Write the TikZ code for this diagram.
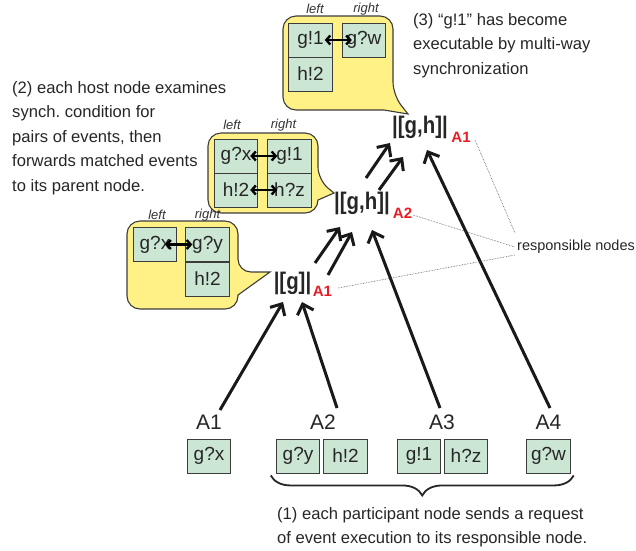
\documentclass[tikz,border=0pt]{standalone}
\usepackage{fontspec}
\setmainfont{Liberation Sans}
\newfontfamily\stretchfont[FakeStretch=0.85]{Liberation Sans}
\usetikzlibrary{arrows.meta,decorations.pathreplacing}
\definecolor{balloonyellow}{RGB}{255,241,134}
\definecolor{cellgreen}{RGB}{204,230,212}
\definecolor{edgegray}{RGB}{60,60,60}
\definecolor{hostred}{RGB}{232,28,36}
\frenchspacing
\begin{document}
\begin{tikzpicture}[x=1pt,y=-1pt]
\tikzset{balloon/.style={draw=edgegray,fill=balloonyellow,line width=1.1pt,rounded corners=13pt},
  cell/.style={draw=edgegray,fill=cellgreen,line width=0.9pt,minimum width=43.5pt,minimum height=34pt,inner sep=0pt,font=\fontsize{19}{19}\selectfont,text=black!85},
  side/.style={font=\fontsize{13}{13}\selectfont\itshape,text=black!80,inner sep=0pt},
  host/.style={font=\stretchfont\bfseries\fontsize{24}{24}\selectfont,inner sep=0pt,text=black!85},
  hostsub/.style={font=\bfseries\fontsize{15}{15}\selectfont,inner sep=0pt,text=hostred},
  part/.style={font=\fontsize{21}{21}\selectfont,inner sep=0pt,text=black!85},
  note/.style={font=\fontsize{16.6}{24.5}\selectfont,align=left,inner sep=0pt,anchor=north west,text=black!85},
  req/.style={line width=3pt,draw=black!90,-{Straight Barb[length=9pt,width=17pt]}},
  pair/.style={line width=2.4pt,{Straight Barb[length=4pt,width=9pt]}-{Straight Barb[length=4pt,width=9pt]}},
  resp/.style={densely dotted,line width=0.6pt,draw=black!70}}
\useasboundingbox (0,0) rectangle (636,550);
\draw[balloon] (283,16) -- (393,16) -- (393,95) [sharp corners] -- (408,114) -- (384,110) [rounded corners=13pt] -- (283,110) -- cycle;
\draw[balloon] (208,133) -- (318,133) -- (318,180) [sharp corners] -- (334,193) -- (318,200) [rounded corners=13pt] -- (318,213) -- (208,213) -- cycle;
\draw[balloon] (127,221) -- (238,221) -- (238,272) [sharp corners] -- (270,272) -- (238,295) [rounded corners=13pt] -- (238,309) -- (127,309) -- cycle;
\node[cell] (tg1) at (310.5,40) {g!1};
\node[cell] (th2) at (310.5,74) {h!2};
\node[cell] (tgw) at (364,40) {g?w};
\node[side] at (315,9) {left};
\node[side] at (366,9) {right};
\node[cell] (mgx) at (236,156) {g?x};
\node[cell] (mh2) at (236,190) {h!2};
\node[cell] (mg1) at (289.5,156) {g!1};
\node[cell] (mhz) at (289.5,190) {h?z};
\node[side] at (232,125) {left};
\node[side] at (283.5,125) {right};
\node[cell] (bgx) at (155,244.5) {g?x};
\node[cell] (bgy) at (207.5,244.5) {g?y};
\node[cell] (bh2) at (207.5,279) {h!2};
\node[side] at (157,215) {left};
\node[side] at (207.5,215) {right};
\draw[pair] ([xshift=-8pt]tg1.east) -- ([xshift=10pt]tgw.west);
\draw[pair] ([xshift=-8pt]mgx.east) -- ([xshift=10pt]mg1.west);
\draw[pair] ([xshift=-8pt]mh2.east) -- ([xshift=10pt]mhz.west);
\draw[pair] ([xshift=-12pt]bgx.east) -- ([xshift=7pt]bgy.west);
\node[host] (g1) at (292.5,283.5) {|[g]|};
\node[hostsub] (g1sub) at (322.5,291.5) {A1};
\node[host] (gh2) at (362,203) {|[g,h]|};
\node[hostsub] (gh2sub) at (402.5,213) {A2};
\node[host] (gh1) at (420,127) {|[g,h]|};
\node[hostsub] (gh1sub) at (461,137.5) {A1};
\node[part] (A1) at (209,422) {A1};
\node[part] (A2) at (323,422) {A2};
\node[part] (A3) at (442,422) {A3};
\node[part] (A4) at (548.5,422) {A4};
\node[cell] (gx) at (209,456) {g?x};
\node[cell] (gy) at (298,456) {g?y};
\node[cell] (h2) at (345.5,456) {h!2};
\node[cell] (g1c) at (419,456) {g!1};
\node[cell] (hz) at (466,456) {h?z};
\node[cell] (gw) at (548.5,456) {g?w};
\draw[req] ([shift={(11,-12)}]A1.center) -- ([shift={(-9.5,18.5)}]g1.center);
\draw[req] ([shift={(14,-14)}]A2.center) -- ([shift={(9.5,18.5)}]g1.center);
\draw[req] ([shift={(-2,-14)}]A3.center) -- ([shift={(10,27)}]gh2.center);
\draw[req] ([shift={(1.5,-14)}]A4.center) -- ([shift={(7,23)}]gh1.center);
\draw[req] ([shift={(22.5,-20.5)}]g1.center) -- ([shift={(-22,24)}]gh2.center);
\draw[req] ([shift={(35.5,-8.5)}]g1.center) -- ([shift={(-10,29)}]gh2.center);
\draw[req] ([shift={(4,-25)}]gh2.center) -- ([shift={(-30,16)}]gh1.center);
\draw[req] ([shift={(17,-13)}]gh2.center) -- ([shift={(-17,30)}]gh1.center);
\node[font=\fontsize{14.5}{14.5}\selectfont,anchor=west,inner sep=0pt,text=black!85] (resp) at (517,247) {responsible nodes};
\draw[resp] ([shift={(14,2.5)}]gh1sub.center) -- ([shift={(-2,-14)}]resp.west);
\draw[resp] ([shift={(10.5,2)}]gh2sub.center) -- ([shift={(-2,0)}]resp.west);
\draw[resp] ([shift={(15.5,-3.5)}]g1sub.center) -- ([shift={(-2,8)}]resp.west);
\draw[decorate,decoration={brace,mirror,amplitude=20pt},line width=1.8pt,draw=black!85] ([shift={(-5,2)}]gy.south west) -- ([shift={(3,2)}]gw.south east);
\node[note] (n3) at (413,13) {(3) “g!1” has become\\executable by multi-way\\synchronization};
\node[note] (n2) at (12,81) {(2) each host node examines\\synch. condition for\\pairs of events, then\\forwards matched events\\to its parent node.};
\node[note] (n1) at (277,507) {(1) each participant node sends a request\\of event execution to its responsible node.};
\end{tikzpicture}
\end{document}
